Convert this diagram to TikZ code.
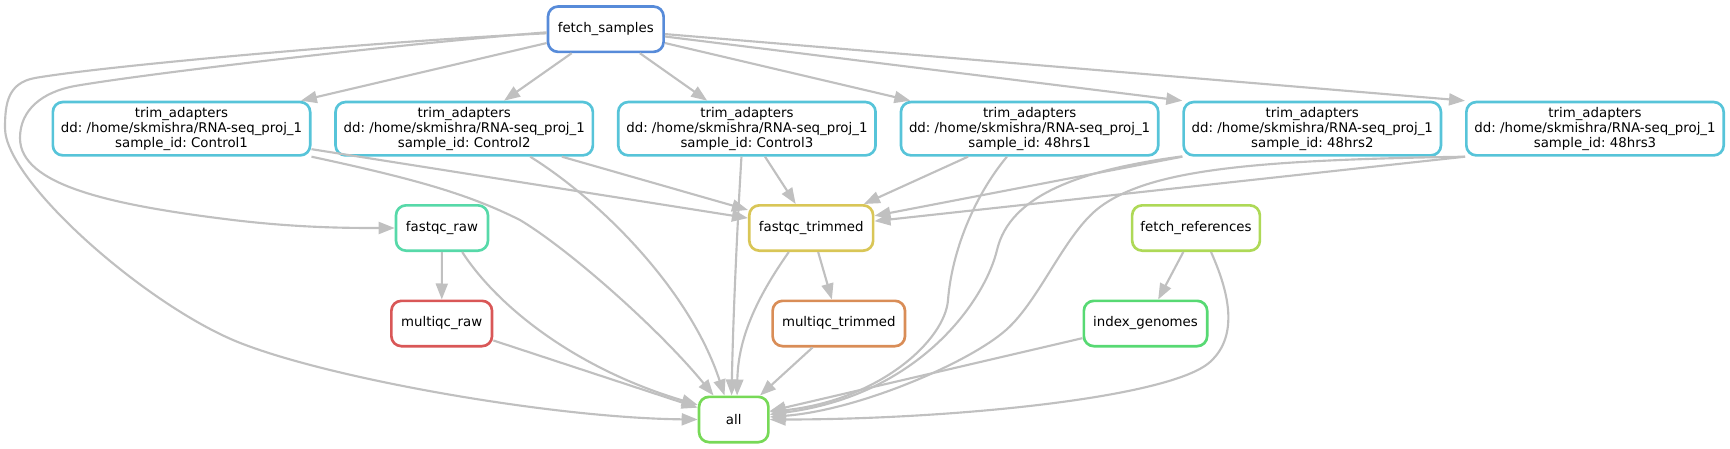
\documentclass[tikz,border=0pt]{standalone}
\usepackage{fontspec}
\setmainfont{DejaVu Sans}
\frenchspacing
\usetikzlibrary{arrows.meta}
\definecolor{edgegray}{RGB}{192,192,192}
\definecolor{fsc}{RGB}{87,139,217}
\definecolor{trimc}{RGB}{87,196,217}
\definecolor{fqrc}{RGB}{87,217,169}
\definecolor{fqtc}{RGB}{217,198,87}
\definecolor{frefc}{RGB}{174,217,87}
\definecolor{mqrc}{RGB}{217,87,87}
\definecolor{mqtc}{RGB}{217,141,87}
\definecolor{idxc}{RGB}{87,217,115}
\definecolor{allc}{RGB}{119,217,87}
\begin{document}
\begin{tikzpicture}[x=0.75pt,y=-0.75pt,
  box/.style={draw, line width=2pt, rounded corners=7.5pt, minimum height=34pt,
    inner sep=0pt, font=\fontsize{10}{11.25}\selectfont, align=center, text=black},
  tbox/.style={box, draw=trimc, minimum width=193pt, minimum height=40pt},
  conn/.style={draw=edgegray, line width=1.6pt, -{Triangle[length=12pt,width=9pt]}}
]
\useasboundingbox (0,0) rectangle (1730,449);

% nodes
\node[box, draw=fsc, minimum width=86.7pt] (fs) at (605.8,29.2) {fetch\_samples};
\node[tbox] (t1) at (181.5,128.7) {trim\_adapters\\dd: /home/skmishra/RNA-seq\_proj\_1\\sample\_id: Control1};
\node[tbox] (t2) at (464.2,128.7) {trim\_adapters\\dd: /home/skmishra/RNA-seq\_proj\_1\\sample\_id: Control2};
\node[tbox] (t3) at (746.9,128.7) {trim\_adapters\\dd: /home/skmishra/RNA-seq\_proj\_1\\sample\_id: Control3};
\node[tbox] (t4) at (1029.6,128.7) {trim\_adapters\\dd: /home/skmishra/RNA-seq\_proj\_1\\sample\_id: 48hrs1};
\node[tbox] (t5) at (1312.3,128.7) {trim\_adapters\\dd: /home/skmishra/RNA-seq\_proj\_1\\sample\_id: 48hrs2};
\node[tbox] (t6) at (1595,128.7) {trim\_adapters\\dd: /home/skmishra/RNA-seq\_proj\_1\\sample\_id: 48hrs3};
\node[box, draw=fqrc, minimum width=69pt] (fqr) at (442,228) {fastqc\_raw};
\node[box, draw=fqtc, minimum width=92.9pt] (fqt) at (811.2,228) {fastqc\_trimmed};
\node[box, draw=frefc, minimum width=95.8pt] (fref) at (1196,228) {fetch\_references};
\node[box, draw=mqrc, minimum width=75.5pt] (mqr) at (441.7,323.5) {multiqc\_raw};
\node[box, draw=mqtc, minimum width=99.3pt] (mqt) at (838.8,323.5) {multiqc\_trimmed};
\node[box, draw=idxc, minimum width=92.5pt] (idx) at (1145.5,323.5) {index\_genomes};
\node[box, draw=allc, minimum width=52pt] (al) at (733.7,419.5) {all};

% fetch_samples -> trims
\draw[conn] (fs) -- (t1);
\draw[conn] (fs) -- (t2);
\draw[conn] (fs) -- (t3);
\draw[conn] (fs) -- (t4);
\draw[conn] (fs) -- (t5.north west);
\draw[conn] (fs) -- (t6.north west);

% fetch_samples -> fastqc_raw
\draw[conn] (fs.183) .. controls (400,44) and (150,73) .. (75,86)
  .. controls (42,92) and (20,110) .. (20,138)
  .. controls (20,185) and (110,205) .. (233,220)
  .. controls (300,228) and (350,228) .. (fqr.west);
% fetch_samples -> all
\draw[conn] (fs.184) .. controls (400,40) and (110,65) .. (35,78)
  .. controls (8,83) and (5,103) .. (5,128)
  .. controls (5,180) and (140,300) .. (233,340)
  .. controls (320,377) and (550,418) .. (al.west);

% trims -> fastqc_trimmed
\draw[conn] (t1) -- (fqt);
\draw[conn] (t2) -- (fqt);
\draw[conn] (t3) -- (fqt);
\draw[conn] (t4) -- (fqt);
\draw[conn] (t5.south west) -- (fqt);
\draw[conn] (t6.south west) -- (fqt);

% trims -> all
\draw[conn] (t1.south east) .. controls (420,180) and (470,195) .. (520,220)
  .. controls (570,250) and (660,330) .. (al.130);
\draw[conn] (t2.337) .. controls (600,200) and (690,290) .. (al.111);
\draw[conn] (t3.259) .. controls (737,230) and (733,320) .. (al.95);
\draw[conn] (t4.231) .. controls (975,195) and (952,250) .. (948,300)
  .. controls (945,340) and (880,400) .. (al.12);
\draw[conn] (t5.192.5) .. controls (1080,170) and (1010,195) .. (997,250)
  .. controls (985,300) and (920,395) .. (al.8);
\draw[conn] (t6.south west) .. controls (1250,160) and (1150,170) .. (1100,207)
  .. controls (1065,233) and (1040,300) .. (1006,330)
  .. controls (970,362) and (860,410) .. (al.4);

% qc
\draw[conn] (fqr) -- (mqr);
\draw[conn] (fqr.310) .. controls (500,310) and (580,370) .. (al.158);
\draw[conn] (mqr) -- (al);
\draw[conn] (fqt) -- (mqt);
\draw[conn] (fqt.227) .. controls (755,300) and (738,340) .. (al.82);
\draw[conn] (mqt) -- (al);

% references
\draw[conn] (fref) -- (idx);
\draw[conn] (fref.302) .. controls (1228,290) and (1240,335) .. (1210,362)
  .. controls (1170,398) and (950,419.5) .. (al.east);
\draw[conn] (idx) -- (al);
\end{tikzpicture}
\end{document}
